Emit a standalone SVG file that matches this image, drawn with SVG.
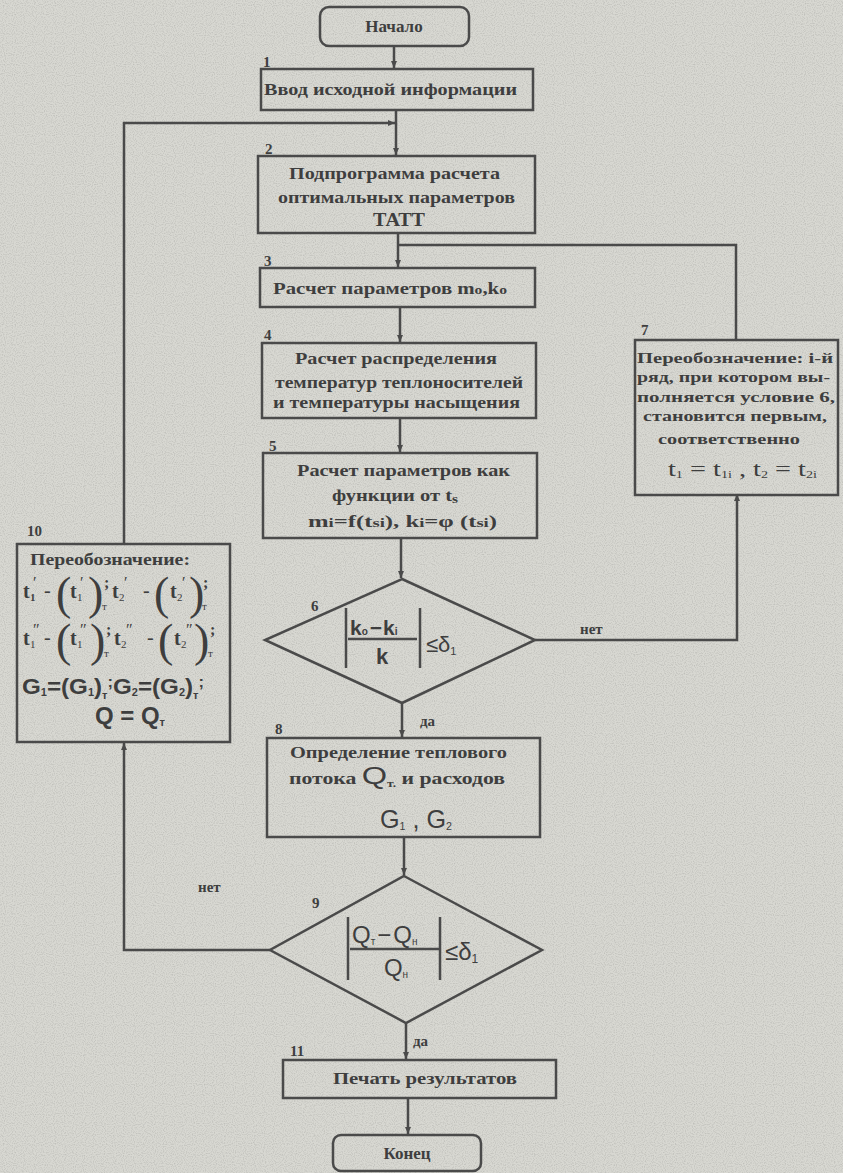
<svg xmlns="http://www.w3.org/2000/svg" width="843" height="1173" viewBox="0 0 843 1173">
<defs>
<marker id="ah" markerWidth="8" markerHeight="8" refX="7" refY="4" orient="auto" markerUnits="userSpaceOnUse">
<path d="M0,1 L7,4 L0,7 Z" fill="#4a4a4a"/>
</marker>
<filter id="grain" x="0" y="0" width="100%" height="100%">
<feTurbulence type="fractalNoise" baseFrequency="0.9" numOctaves="1" seed="3" result="n"/>
<feColorMatrix type="matrix" values="0 0 0 0 0.35  0 0 0 0 0.35  0 0 0 0 0.33  0 0 0 -2.2 1.25" in="n"/>
</filter>
<style>
.box{fill:none;stroke:#4a4a4a;stroke-width:2.5}
.ln{fill:none;stroke:#4a4a4a;stroke-width:2.5}
.t{font-family:"Liberation Serif","Times New Roman",serif;font-weight:bold;font-size:16px;fill:#3e3e3e}
.c{text-anchor:middle}
.n{font-family:"Liberation Serif",serif;font-weight:bold;font-size:15px;fill:#3e3e3e}
.m{font-family:"Liberation Serif",serif;font-size:20px;fill:#3e3e3e}
.ms{font-family:"Liberation Sans",Arial,sans-serif;font-size:20px;fill:#3e3e3e}
.s{font-size:11px}
.pr{font-size:16px}
.p{font-family:"Liberation Serif",serif;font-size:46px;fill:#3e3e3e}
</style>
</defs>
<rect width="843" height="1173" fill="#d8d8d2"/>
<rect width="843" height="1173" filter="url(#grain)" opacity="0.5"/>

<g id="connectors">
<path class="ln" d="M394,46 V68" marker-end="url(#ah)"/>
<path class="ln" d="M396,110 V155" marker-end="url(#ah)"/>
<path class="ln" d="M124,544 V123 H395" marker-end="url(#ah)"/>
<path class="ln" d="M398,233 V267" marker-end="url(#ah)"/>
<path class="ln" d="M736,340 V245 H399"/>
<path class="ln" d="M400,307 V342" marker-end="url(#ah)"/>
<path class="ln" d="M400,418 V452" marker-end="url(#ah)"/>
<path class="ln" d="M401,538 V578" marker-end="url(#ah)"/>
<path class="ln" d="M535,640 H737 V494" marker-end="url(#ah)"/>
<path class="ln" d="M402,703 V737" marker-end="url(#ah)"/>
<path class="ln" d="M404,837 V875" marker-end="url(#ah)"/>
<path class="ln" d="M270,950 H124 V743" marker-end="url(#ah)"/>
<path class="ln" d="M406,1023 V1059" marker-end="url(#ah)"/>
<path class="ln" d="M408,1098 V1134" marker-end="url(#ah)"/>
<text class="t" x="580" y="634" style="font-size:15px">нет</text>
<text class="t" x="420" y="726" style="font-size:15px">да</text>
<text class="t" x="198" y="892" style="font-size:15px">нет</text>
<text class="t" x="413" y="1046" style="font-size:15px">да</text>
</g>

<g id="start">
<rect class="box" x="320" y="7" width="149" height="39" rx="9"/>
<text class="t c" x="394" y="32" style="font-size:17px">Начало</text>
</g>

<g id="n1">
<rect class="box" x="261" y="69" width="272" height="41"/>
<text class="n" x="263" y="67">1</text>
<text class="t" x="264" y="95" style="font-size:17px" textLength="253" lengthAdjust="spacingAndGlyphs">Ввод исходной информации</text>
</g>

<g id="n2">
<rect class="box" x="258" y="156" width="277" height="77"/>
<text class="n" x="265" y="154">2</text>
<text class="t" x="289" y="179" textLength="211" lengthAdjust="spacingAndGlyphs">Подпрограмма расчета</text>
<text class="t" x="278" y="203" textLength="237" lengthAdjust="spacingAndGlyphs">оптимальных параметров</text>
<text class="t" x="373" y="226" style="font-size:18px" textLength="52" lengthAdjust="spacingAndGlyphs">ТАТТ</text>
</g>

<g id="n3">
<rect class="box" x="260" y="268" width="275" height="39"/>
<text class="n" x="264" y="266">3</text>
<text class="t" x="273" y="294" textLength="234" lengthAdjust="spacingAndGlyphs">Расчет параметров m<tspan font-size="12">o</tspan>,k<tspan font-size="12">o</tspan></text>
</g>

<g id="n4">
<rect class="box" x="262" y="343" width="274" height="75"/>
<text class="n" x="264" y="340">4</text>
<text class="t" x="295" y="364" textLength="202" lengthAdjust="spacingAndGlyphs">Расчет распределения</text>
<text class="t" x="275" y="388" textLength="248" lengthAdjust="spacingAndGlyphs">температур теплоносителей</text>
<text class="t" x="273" y="408" textLength="247" lengthAdjust="spacingAndGlyphs">и температуры насыщения</text>
</g>

<g id="n5">
<rect class="box" x="263" y="453" width="274" height="85"/>
<text class="n" x="269" y="451">5</text>
<text class="t" x="297" y="476" textLength="213" lengthAdjust="spacingAndGlyphs">Расчет параметров как</text>
<text class="t" x="332" y="501" textLength="126" lengthAdjust="spacingAndGlyphs">функции от t<tspan font-size="12" dy="2">s</tspan></text>
<text class="t" x="308" y="527" textLength="189" lengthAdjust="spacingAndGlyphs">m<tspan font-size="12">i</tspan>=f(t<tspan font-size="12">si</tspan>), k<tspan font-size="12">i</tspan>=φ (t<tspan font-size="12">si</tspan>)</text>
</g>

<g id="n6">
<path class="box" d="M402,579 L535,640 L402,703 L265,640 Z"/>
<text class="n" x="311" y="611">6</text>
<path class="ln" d="M346,608 V668 M420,608 V668 M348,639 H417" stroke-width="2"/>
<text class="ms" x="350" y="635" font-weight="bold" style="font-size:21px">k<tspan font-size="10">o</tspan><tspan dx="2">−</tspan><tspan dx="1">k</tspan><tspan font-size="10">i</tspan></text>
<text class="ms c" x="382" y="664" font-weight="bold" style="font-size:22px">k</text>
<text class="ms" x="426" y="652" style="font-size:22px">≤δ<tspan font-size="11" dy="3">1</tspan></text>
</g>

<g id="n7">
<rect class="box" x="635" y="340" width="203" height="155"/>
<text class="n" x="641" y="335">7</text>
<text class="t" x="637" y="363" style="font-size:15px" textLength="196" lengthAdjust="spacingAndGlyphs">Переобозначение: i-й</text>
<text class="t" x="637" y="382" style="font-size:15px" textLength="193" lengthAdjust="spacingAndGlyphs">ряд, при котором вы-</text>
<text class="t" x="637" y="402" style="font-size:15px" textLength="198" lengthAdjust="spacingAndGlyphs">полняется   условие 6,</text>
<text class="t" x="643" y="421" style="font-size:15px" textLength="184" lengthAdjust="spacingAndGlyphs">становится первым,</text>
<text class="t" x="658" y="444" style="font-size:15px" textLength="142" lengthAdjust="spacingAndGlyphs">соответственно</text>
<text class="m" x="668" y="476" style="font-size:22px" textLength="149" lengthAdjust="spacingAndGlyphs">t<tspan font-size="11" dy="2">1</tspan><tspan dy="-2"> = t</tspan><tspan font-size="11" dy="2">1i</tspan><tspan dy="-2"> , t</tspan><tspan font-size="11" dy="2">2</tspan><tspan dy="-2"> = t</tspan><tspan font-size="11" dy="2">2i</tspan></text>
</g>

<g id="n8">
<rect class="box" x="267" y="738" width="273" height="99"/>
<text class="n" x="275" y="734">8</text>
<text class="t" x="290" y="758" textLength="217" lengthAdjust="spacingAndGlyphs">Определение теплового</text>
<text class="t" x="289" y="784" textLength="216" lengthAdjust="spacingAndGlyphs">потока <tspan class="ms" style="font-size:24px;font-weight:normal">Q</tspan><tspan font-size="10" dy="3">т.</tspan><tspan dy="-3"> и расходов</tspan></text>
<text class="ms" x="380" y="828" style="font-size:26px" textLength="72" lengthAdjust="spacingAndGlyphs">G<tspan font-size="11" dy="2">1</tspan><tspan dy="-2"> , G</tspan><tspan font-size="11" dy="2">2</tspan></text>
</g>

<g id="n9">
<path class="box" d="M404,876 L542,950 L406,1023 L270,950 Z"/>
<text class="n" x="312" y="908">9</text>
<path class="ln" d="M348,917 V980 M440,917 V980 M350,949 H440" stroke-width="2"/>
<text class="ms" x="352" y="943" style="font-size:24px">Q<tspan font-size="10" dy="2">т</tspan><tspan dy="-2" dx="2">−</tspan><tspan dx="2">Q</tspan><tspan font-size="10" dy="2">н</tspan></text>
<text class="ms c" x="396" y="976" style="font-size:24px">Q<tspan font-size="10" dy="2">н</tspan></text>
<text class="ms" x="445" y="960" style="font-size:24px">≤δ<tspan font-size="12" dy="3">1</tspan></text>
</g>

<g id="n10">
<rect class="box" x="17" y="544" width="213" height="198"/>
<text class="n" x="27" y="536">10</text>
<text class="t" x="30" y="565" textLength="160" lengthAdjust="spacingAndGlyphs">Переобозначение:</text>
<!-- row 1 -->
<text class="m" x="23" y="598" font-weight="bold">t</text><text class="m s" x="30" y="601" font-weight="bold">1</text><text class="m pr" x="33" y="588">′</text>
<text class="m" x="44" y="597">-</text>
<text class="p" x="56" y="609">(</text>
<text class="m" x="70" y="598" font-weight="bold">t</text><text class="m s" x="77" y="601">1</text><text class="m pr" x="80" y="588">′</text>
<text class="p" x="88" y="609">)</text>
<text class="m s" x="102" y="610">т</text><text class="m pr" x="104" y="588" font-weight="bold">;</text>
<text class="m" x="112" y="598" font-weight="bold">t</text><text class="m s" x="119" y="601">2</text><text class="m pr" x="124" y="588">′</text>
<text class="m" x="143" y="597">-</text>
<text class="p" x="154" y="609">(</text>
<text class="m" x="170" y="598" font-weight="bold">t</text><text class="m s" x="177" y="601">2</text><text class="m pr" x="182" y="588">′</text>
<text class="p" x="189" y="609">)</text>
<text class="m s" x="202" y="610">т</text><text class="m pr" x="203" y="588" font-weight="bold">;</text>
<!-- row 2 -->
<text class="m" x="23" y="645" font-weight="bold">t</text><text class="m s" x="30" y="648">1</text><text class="m pr" x="33" y="635">″</text>
<text class="m" x="44" y="644">-</text>
<text class="p" x="56" y="656">(</text>
<text class="m" x="70" y="645" font-weight="bold">t</text><text class="m s" x="77" y="648">1</text><text class="m pr" x="80" y="635">″</text>
<text class="p" x="90" y="656">)</text>
<text class="m s" x="104" y="657">т</text><text class="m pr" x="106" y="635" font-weight="bold">;</text>
<text class="m" x="114" y="645" font-weight="bold">t</text><text class="m s" x="121" y="648">2</text><text class="m pr" x="126" y="635">″</text>
<text class="m" x="147" y="644">-</text>
<text class="p" x="158" y="656">(</text>
<text class="m" x="174" y="645" font-weight="bold">t</text><text class="m s" x="181" y="648">2</text><text class="m pr" x="186" y="635">″</text>
<text class="p" x="194" y="656">)</text>
<text class="m s" x="208" y="657">т</text><text class="m pr" x="210" y="635" font-weight="bold">;</text>
<!-- row 3 -->
<text class="ms" x="22" y="694" font-weight="bold" style="font-size:22px" textLength="182" lengthAdjust="spacingAndGlyphs">G<tspan font-size="10" dy="2">1</tspan><tspan dy="-2">=(G</tspan><tspan font-size="10" dy="2">1</tspan><tspan dy="-2">)</tspan><tspan font-size="10" dy="5">т</tspan><tspan dy="-12" font-size="15">;</tspan><tspan dy="7">G</tspan><tspan font-size="10" dy="2">2</tspan><tspan dy="-2">=(G</tspan><tspan font-size="10" dy="2">2</tspan><tspan dy="-2">)</tspan><tspan font-size="10" dy="5">т</tspan><tspan dy="-12" font-size="15">;</tspan></text>
<!-- row 4 -->
<text class="ms" x="95" y="724" font-weight="bold" style="font-size:24px" textLength="70" lengthAdjust="spacingAndGlyphs">Q = Q<tspan font-size="11" dy="2">т</tspan></text>
</g>

<g id="n11">
<rect class="box" x="283" y="1060" width="273" height="38"/>
<text class="n" x="290" y="1056">11</text>
<text class="t" x="333" y="1084" textLength="184" lengthAdjust="spacingAndGlyphs">Печать результатов</text>
</g>

<g id="end">
<rect class="box" x="333" y="1135" width="148" height="36" rx="8"/>
<text class="t c" x="407" y="1159" style="font-size:17px">Конец</text>
</g>
</svg>
